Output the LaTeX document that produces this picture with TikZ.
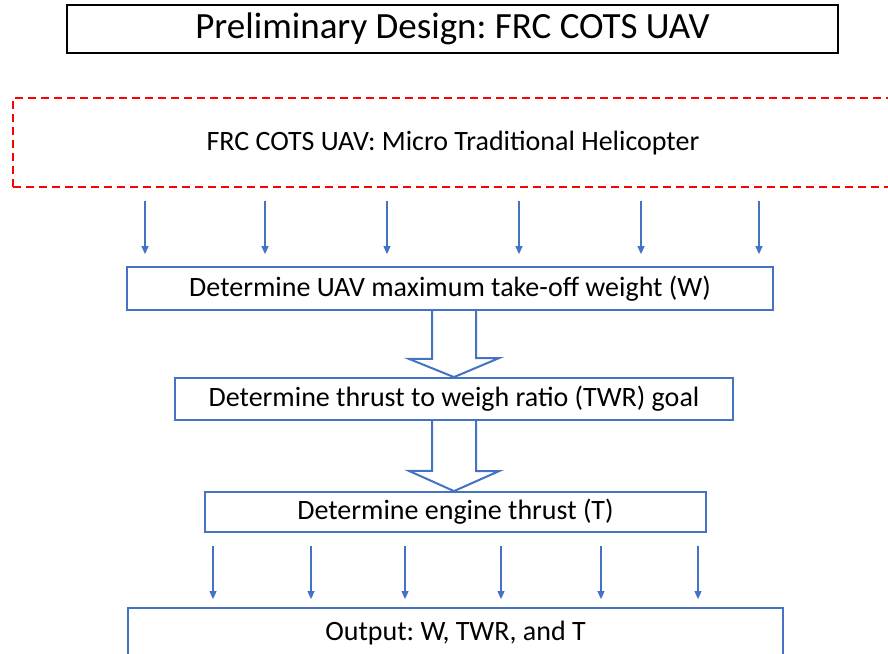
\documentclass[tikz,border=0pt]{standalone}
\usepackage{fontspec}
\setmainfont{Carlito}
\frenchspacing
\usepackage{tikz}
\definecolor{boxblue}{RGB}{68,114,196}
\definecolor{dashred}{RGB}{255,0,0}
\usetikzlibrary{positioning}
\usetikzlibrary{calc}
\usetikzlibrary{arrows.meta}
\tikzset{titlebox/.style={
    draw=black,line width=1.3pt,inner sep=0pt,
    font=\fontsize{37}{44}\selectfont,
  },
  dashbox/.style={
    draw=dashred,line width=1.8pt,dash pattern=on 8pt off 5pt,inner sep=0pt,
    font=\fontsize{28}{33}\selectfont,
  },
  stepbox/.style={
    draw=boxblue,line width=1.8pt,inner sep=0pt,
    font=\fontsize{28}{33}\selectfont,
  },
  thinarrow/.style={
    draw=boxblue,line width=1.1pt,-{Triangle[length=8pt,width=7pt]},
  },
  hollow/.style={
    draw=boxblue,line width=2pt,line join=miter,
  }
}
\begin{document}
\begin{tikzpicture}[x=1pt,y=-1pt]
      \useasboundingbox (0,0) rectangle (888,653);
      \clip (0,0) rectangle (888,653);
      \node[titlebox,minimum width=771pt,minimum height=48pt] (title) at (452.5,29) {Preliminary Design: FRC COTS UAV};
      \node[dashbox,minimum width=890pt,minimum height=89pt] (helo) at (458,142.5) {};
      \node (helotext) at (453,143) {\fontsize{28}{33}\selectfont FRC COTS UAV: Micro Traditional Helicopter};
      \node[stepbox,minimum width=646pt,minimum height=43pt] (weight) at (450,288.5) {Determine UAV maximum take-off weight (W)};
      \node[stepbox,minimum width=558pt,minimum height=42pt] (twr) at (454,399) {Determine thrust to weigh ratio (TWR) goal};
      \node[stepbox,minimum width=501pt,minimum height=40pt] (thrust) at (455.5,512) {Determine engine thrust (T)};
      \node[stepbox,minimum width=655pt,minimum height=50pt] (output) at (455.5,633) {Output: W, TWR, and T};
      % inputs from the vehicle choice
      \foreach \x in {145,265,387,519,641,759}
        \draw[thinarrow,shorten <=13pt,shorten >=12pt] (\x,0 |- helo.south) -- (\x,0 |- weight.north);
      % block arrows between the steps
      \draw[hollow] ([xshift=-22pt]weight.south -| twr.north) -- ++(0,48) -- ++(-23,0)
        -- (twr.north) -- ++(45,-19) -- ++(-23,0) -- ([xshift=22pt]weight.south -| twr.north);
      \draw[hollow] ([xshift=-22pt]twr.south) -- ++(0,50) -- ++(-23,0)
        -- (thrust.north -| twr.south) -- ++(45,-20) -- ++(-23,0) -- ([xshift=22pt]twr.south);
      % outputs
      \foreach \x in {213,311,405,501,601,698}
        \draw[thinarrow,shorten <=13pt,shorten >=8pt] (\x,0 |- thrust.south) -- (\x,0 |- output.north);
      \end{tikzpicture}
\end{document}
